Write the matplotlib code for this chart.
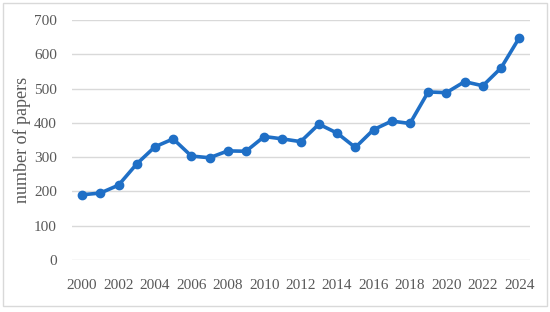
import matplotlib.pyplot as plt
from matplotlib.patches import Rectangle

years = list(range(2000, 2025))
papers = [190, 195, 218, 280, 330, 353, 303, 298, 318, 317, 360, 353, 345,
          396, 370, 328, 380, 405, 398, 490, 488, 520, 508, 560, 648]
x_ticks = list(range(2000, 2025, 2))
y_ticks = list(range(0, 701, 100))

plt.rcParams['font.family'] = ['Liberation Serif', 'DejaVu Serif']
text_col = '#595959'

fig = plt.figure(figsize=(5.5, 3.12), dpi=100)
ax = fig.add_axes([0.131, 0.167, 0.833, 0.769])

# outer frame around whole chart
fig.patches.append(Rectangle((0.006, 0.02), 0.988, 0.97, transform=fig.transFigure,
                             fill=False, edgecolor='#d9d9d9', linewidth=1))

ax.plot(years, papers, color='#1f6fc6', linewidth=2.6, marker='o', markersize=6,
        zorder=3)

ax.set_xlim(1999.45, 2024.6)
ax.set_ylim(0, 700)
ax.set_xticks(x_ticks)
ax.set_yticks(y_ticks)
ax.grid(axis='y', color='#d9d9d9', linewidth=1)
ax.set_axisbelow(True)
for s in ax.spines.values():
    s.set_visible(False)
ax.tick_params(length=0, labelsize=11, colors=text_col)
ax.tick_params(axis='x', pad=14)
ax.tick_params(axis='y', pad=11)
ax.set_ylabel('number of papers', fontsize=13, color=text_col, labelpad=2)

fig.savefig('out.png', dpi=100)
